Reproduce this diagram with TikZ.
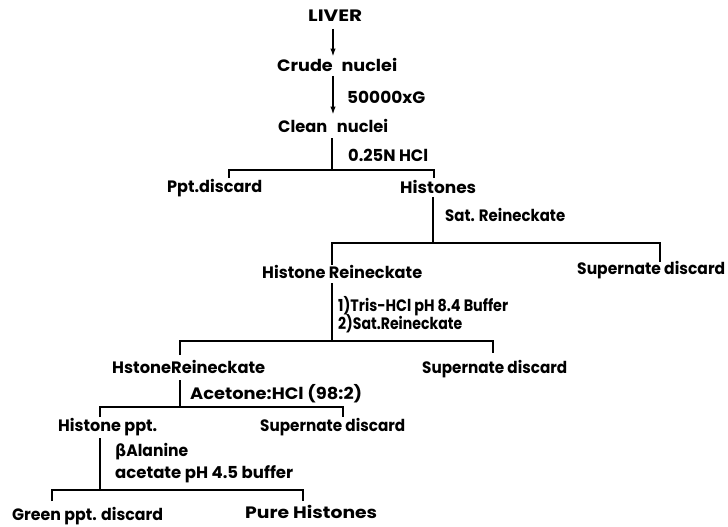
\documentclass[tikz,border=0pt]{standalone}
\usepackage{fontspec}
\setmainfont{Poppins}
\newfontfamily\gk{DejaVu Sans}
\usetikzlibrary{arrows.meta}
\newcommand\fw[2]{\resizebox{#1pt}{\height}{#2}}
\begin{document}
\begin{tikzpicture}[x=1pt,y=-1pt,
  lbl/.style={anchor=base west,inner sep=0pt,font=\fontsize{16.5}{18}\selectfont\bfseries},
  ln/.style={line width=1.6pt},
  arr/.style={ln,-{Latex[length=8pt,width=5.5pt]}}]
\useasboundingbox (0,0) rectangle (728,527);
\fill[white] (0,0) rectangle (728,527);
% texts
\node[lbl] (liver)  at (308,22)  {\fw{54}{LIVER}};
\node[lbl] (crude)  at (277,71)  {\fw{120}{Crude\hspace{0.5em}nuclei}};
\node[lbl] (g)      at (347,103) {\fw{78}{50000xG}};
\node[lbl] (clean)  at (278,132) {\fw{110}{Clean\hspace{0.6em}nuclei}};
\node[lbl] (hcl)    at (348,161) {\fw{80}{0.25N HCl}};
\node[lbl] (ppt)    at (167,192) {\fw{95}{Ppt.discard}};
\node[lbl] (hist)   at (400,193) {\fw{76}{Histones}};
\node[lbl] (sat)    at (445,221) {\fw{120}{Sat. Reineckate}};
\node[lbl] (hr)     at (262,278) {\fw{160}{Histone Reineckate}};
\node[lbl] (sup1)   at (577,274) {\fw{148}{Supernate discard}};
\node[lbl] (tris)   at (338,311) {\fw{170}{1)Tris-HCl pH 8.4 Buffer}};
\node[lbl] (sat2)   at (338,329) {\fw{124}{2)Sat.Reineckate}};
\node[lbl] (hsr)    at (112,373) {\fw{153}{HstoneReineckate}};
\node[lbl] (sup2)   at (422,373) {\fw{145}{Supernate discard}};
\node[lbl] (acet)   at (190,399) {\fw{172}{Acetone:HCl (98:2)}};
\node[lbl] (hppt)   at (58,431)  {\fw{99}{Histone ppt.}};
\node[lbl] (sup3)   at (260,431) {\fw{145}{Supernate discard}};
\node[lbl] (bala)   at (115,456) {\fw{73}{{\gk β}Alanine}};
\node[lbl] (acbuf)  at (115,478) {\fw{178}{acetate pH 4.5 buffer}};
\node[lbl] (green)  at (12,520)  {\fw{151}{Green ppt. discard}};
\node[lbl] (pure)   at (245,518) {\fw{132}{Pure Histones}};
% junctions
\coordinate (x1) at (333,0);
\coordinate (j1) at (332,170);
\coordinate (h1l) at (229,170);
\coordinate (h1r) at (434,170);
\coordinate (j2) at (433,243);
\coordinate (h2l) at (332,243);
\coordinate (h2r) at (660,243);
\coordinate (j3) at (332,341);
\coordinate (h3l) at (180,341);
\coordinate (h3r) at (493,341);
\coordinate (j4) at (180,407);
\coordinate (h4l) at (100,407);
\coordinate (h4r) at (343,407);
\coordinate (j5) at (100,490);
\coordinate (h5l) at (52,490);
\coordinate (h5r) at (303,490);
% connectors
\draw[arr] ([yshift=-7pt]liver.base -| x1) -- ([yshift=1pt]crude.north -| x1);
\draw[arr] ([yshift=-5pt]crude.base -| x1) -- ([yshift=4pt]clean.north -| x1);
\draw[ln] ([yshift=-6pt]clean.base -| j1) -- (j1);
\draw[ln] ([yshift=-8pt]h1l) -- (h1l) -- (h1r) -- ([yshift=-8pt]h1r);
\draw[ln] ([yshift=-4pt]hist.base -| j2) -- (j2);
\draw[ln] ([yshift=-22pt]h2l) -- (h2l) -- (h2r) -- ([yshift=-19pt]h2r);
\draw[ln] ([yshift=-5pt]hr.base -| j3) -- (j3);
\draw[ln] ([yshift=-14pt]h3l) -- (h3l) -- (h3r) -- ([yshift=-12pt]h3r);
\draw[ln] ([yshift=-7pt]hsr.base -| j4) -- (j4);
\draw[ln] ([yshift=-10pt]h4l) -- (h4l) -- (h4r) -- ([yshift=-10pt]h4r);
\draw[ln] ([yshift=-7pt]hppt.base -| j5) -- (j5);
\draw[ln] ([yshift=-11pt]h5l) -- (h5l) -- (h5r) -- ([yshift=-11pt]h5r);
\end{tikzpicture}
\end{document}
